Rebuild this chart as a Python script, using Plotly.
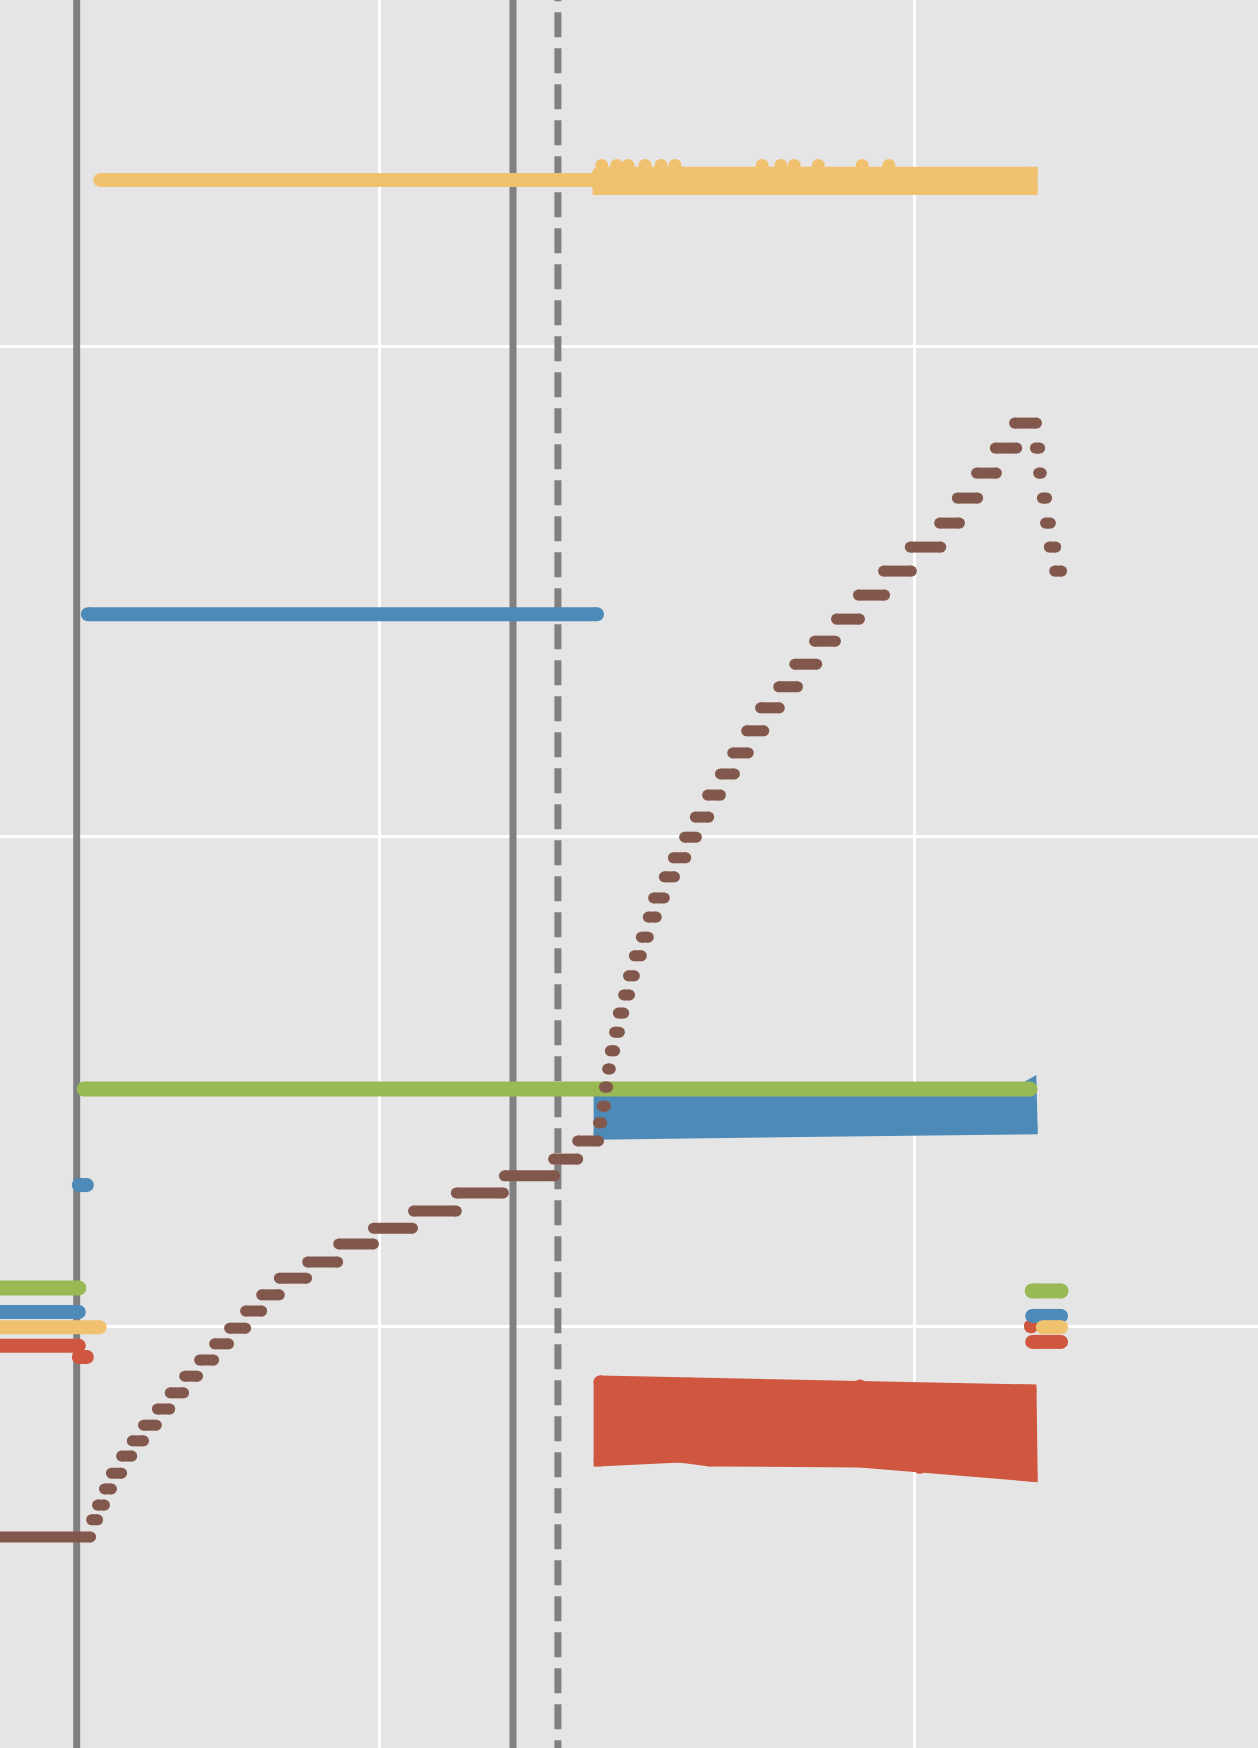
import plotly.graph_objects as go

# brown stepped series: each step runs from start to end at one level
brown_start = [27.0, 46.2, 47.3, 48.6, 49.9, 51.8, 53.8, 55.9, 58.5, 60.9,
               63.6, 66.4, 69.2, 72.0, 75.0, 78.0, 81.3, 86.6, 92.4, 98.9,
               106.4, 114.4, 123.4, 132.6, 137.1, 141.0, 141.7, 142.1, 142.7, 143.2,
               144.0, 144.7, 145.7, 146.6, 147.7, 149.0, 150.3, 151.3, 153.3, 155.0,
               157.1, 159.1, 161.4, 163.8, 166.1, 168.7, 171.3, 174.7, 177.7, 181.4,
               185.5, 189.6, 194.3, 199.3, 204.8, 208.1, 211.7, 215.2, 218.8,
               222.7, 223.3, 224.0, 224.6, 225.3, 226.3]
brown_end = [46.0, 47.3, 48.6, 49.9, 51.8, 53.7, 55.9, 58.3, 60.8, 63.4,
             66.0, 69.0, 71.8, 75.0, 78.0, 81.3, 86.4, 92.2, 98.9, 106.2,
             114.4, 123.2, 132.8, 137.1, 141.0, 141.6, 142.3, 142.7, 143.2, 144.0,
             144.9, 145.7, 146.8, 147.7, 149.0, 150.3, 151.8, 153.3, 155.2, 157.3,
             159.3, 161.6, 163.8, 166.4, 169.0, 171.9, 174.8, 178.2, 181.8, 185.3,
             189.8, 194.5, 199.5, 205.0, 208.5, 211.9, 215.4, 219.2, 222.9,
             223.5, 223.8, 224.8, 225.5, 226.5, 227.6]
brown_level = [57.1, 60.6, 63.6, 66.9, 70.1, 73.6, 76.7, 79.9, 83.2, 86.5,
               89.9, 93.2, 96.5, 99.7, 103.2, 106.5, 109.9, 113.2, 116.9, 120.1,
               123.6, 127.3, 130.8, 134.2, 137.9, 141.6, 145.0, 148.9, 152.6, 156.3,
               160.1, 164.0, 167.7, 171.6, 175.7, 179.5, 183.6, 187.5, 191.8, 195.7,
               199.9, 204.0, 208.5, 212.8, 217.1, 221.6, 226.3, 230.6, 235.2, 239.9,
               244.4, 249.3, 254.2, 259.1, 264.0, 269.1, 274.2, 279.3, 284.4,
               279.3, 274.2, 269.1, 264.0, 259.1, 254.2]

# flat segments (start, end, level) per colour
green_segs = [(27.0, 43.8, 107.9), (44.8, 221.7, 148.5), (222.1, 227.5, 107.3)]
blue_segs = [(27.0, 43.8, 103.0), (43.8, 45.3, 128.9), (45.5, 140.7, 245.4),
             (222.1, 227.5, 102.2)]
yellow_segs = [(27.0, 47.7, 99.9), (47.8, 141.1, 334.0), (224.1, 227.5, 99.9)]
red_segs = [(27.0, 43.8, 96.1), (43.8, 45.3, 93.8), (222.1, 227.5, 96.9),
            (221.9, 221.9, 100.1)]

# dense clouds after the dashed line, as outline envelopes
yellow_band_x = [141.1, 221.9, 221.9, 141.1]
yellow_band_y = [335.4, 335.4, 332.3, 332.3]
yellow_bump_x = [141.6, 144.4, 146.5, 149.7, 152.7, 155.3, 171.6, 175.1, 177.6, 182.1,
                 190.3, 195.3]
yellow_bump_y = [337.0, 337.0, 337.0, 337.0, 337.0, 337.0, 337.0, 337.0, 337.0, 337.0,
                 337.0, 337.0]
blue_band_x = [141.3, 218.9, 221.7, 221.9, 174.9, 141.3]
blue_band_y = [147.3, 147.3, 149.1, 140.6, 140.0, 139.5]
red_band_x = [141.3, 158.1, 189.9, 208.6, 221.7, 221.9, 216.1, 201.1, 189.9, 161.8, 156.2, 141.3]
red_band_y = [88.7, 88.3, 87.9, 87.1, 86.9, 69.7, 70.3, 71.3, 72.6, 72.8, 73.6, 72.8]

# reference markers on the x axis
solid_marks = [43.4, 125.0]
dashed_mark = 133.4

GREEN = '#99B955'
BLUE = '#4E8AB8'
YELLOW = '#F0C270'
RED = '#D0573F'
BROWN = '#83584C'
GREY = '#808080'


def seg_xy(segs):
    xs, ys = [], []
    for x0, x1, y in segs:
        xs += [x0, x1, None]
        ys += [y, y, None]
    return xs, ys


def seg_trace(segs, color, width=14):
    xs, ys = seg_xy(segs)
    return go.Scatter(x=xs, y=ys, mode='lines+markers',
                      line=dict(color=color, width=width),
                      marker=dict(color=color, size=width))


def band_trace(xs, ys, color, width=13):
    # close the outline so the last edge is stroked too
    xs = list(xs) + [xs[0]]
    ys = list(ys) + [ys[0]]
    return go.Scatter(x=xs, y=ys, mode='lines+markers', fill='toself',
                      fillcolor=color, line=dict(color=color, width=width),
                      marker=dict(color=color, size=width))


fig = go.Figure()
fig.add_trace(band_trace(red_band_x, red_band_y, RED))
fig.add_trace(seg_trace(red_segs, RED))
fig.add_trace(band_trace(blue_band_x, blue_band_y, BLUE))
fig.add_trace(seg_trace(blue_segs, BLUE))
fig.add_trace(band_trace(yellow_band_x, yellow_band_y, YELLOW))
fig.add_trace(go.Scatter(x=yellow_bump_x, y=yellow_bump_y, mode='markers',
                         marker=dict(color=YELLOW, size=13)))
fig.add_trace(seg_trace(yellow_segs, YELLOW))
fig.add_trace(seg_trace(green_segs, GREEN, width=15))

bx, by = seg_xy(zip(brown_start, brown_end, brown_level))
fig.add_trace(go.Scatter(x=bx, y=by, mode='lines+markers',
                         line=dict(color=BROWN, width=11),
                         marker=dict(color=BROWN, size=11)))

for xv in solid_marks:
    fig.add_shape(type='line', x0=xv, x1=xv, y0=0, y1=400, xref='x', yref='y',
                  layer='between', line=dict(color=GREY, width=7))
fig.add_shape(type='line', x0=dashed_mark, x1=dashed_mark, y0=375.6, y1=0,
              xref='x', yref='y', layer='between',
              line=dict(color=GREY, width=7, dash='25px,11px'))

fig.update_layout(
    width=1258, height=1748,
    margin=dict(l=0, r=0, t=0, b=0),
    plot_bgcolor='#E5E5E5',
    paper_bgcolor='#E5E5E5',
    showlegend=False,
    xaxis=dict(range=[29.06, 264.33], dtick=100, tick0=0, showgrid=True,
               gridcolor='white', gridwidth=3, zeroline=False,
               showticklabels=False, ticks=''),
    yaxis=dict(range=[14.02, 370.75], dtick=100, tick0=0, showgrid=True,
               gridcolor='white', gridwidth=3, zeroline=False,
               showticklabels=False, ticks=''),
)

fig.write_html("out.html", config={'displayModeBar': False},
               post_script="document.body.style.margin='0';")
